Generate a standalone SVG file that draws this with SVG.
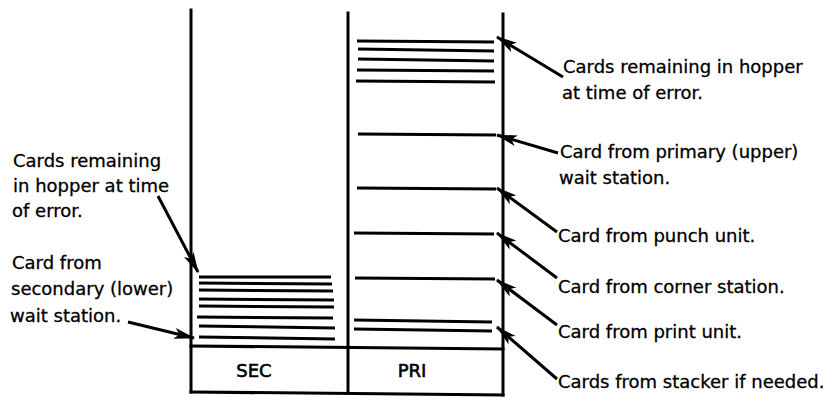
<svg xmlns="http://www.w3.org/2000/svg" width="833" height="401" viewBox="0 0 833 401">
<style>
.wall{stroke:#000;stroke-width:3;fill:none;stroke-linecap:square}
.card{stroke:#000;stroke-width:3;fill:none}
.arr{stroke:#000;stroke-width:3;fill:none}
.t{font-family:"DejaVu Sans",sans-serif;font-size:18px;fill:#000;stroke:#000;stroke-width:0.3}
.lbl{font-family:"DejaVu Sans",sans-serif;font-size:18px;fill:#000;stroke:#000;stroke-width:0.6;text-anchor:middle}
</style>
<defs>
<marker id="ah" markerUnits="userSpaceOnUse" markerWidth="22" markerHeight="12" refX="20" refY="6" orient="auto">
<path d="M0,0.5 L21,6 L0,11.5 L5,6 Z" fill="#000"/>
</marker>
</defs>
<rect width="833" height="401" fill="#fff"/>
<g id="hopper">
<line class="wall" x1="191" y1="10" x2="191" y2="392"/>
<line class="wall" x1="348" y1="13" x2="348" y2="393"/>
<line class="wall" x1="503" y1="14" x2="503" y2="395"/>
<line class="wall" x1="191" y1="346" x2="503" y2="349"/>
<line class="wall" x1="191" y1="392" x2="503" y2="395"/>
</g>
<g id="sec-cards">
<line class="card" x1="199" y1="277" x2="331" y2="277"/>
<line class="card" x1="199" y1="283" x2="332" y2="284"/>
<line class="card" x1="199" y1="290" x2="333" y2="291"/>
<line class="card" x1="199" y1="299" x2="334" y2="300"/>
<line class="card" x1="199" y1="306" x2="334" y2="307"/>
<line class="card" x1="197" y1="317" x2="333" y2="318"/>
<line class="card" x1="199" y1="326" x2="335" y2="328"/>
<line class="card" x1="199" y1="337" x2="335" y2="339"/>
</g>
<g id="pri-cards">
<line class="card" x1="357" y1="41" x2="494" y2="42"/>
<line class="card" x1="358" y1="49" x2="494" y2="51"/>
<line class="card" x1="358" y1="59" x2="494" y2="61"/>
<line class="card" x1="357" y1="70" x2="494" y2="71"/>
<line class="card" x1="356" y1="81" x2="495" y2="82"/>
<line class="card" x1="358" y1="134" x2="496" y2="135"/>
<line class="card" x1="357" y1="188" x2="496" y2="189"/>
<line class="card" x1="354" y1="233" x2="494" y2="234"/>
<line class="card" x1="355" y1="278" x2="495" y2="279"/>
<line class="card" x1="354" y1="320" x2="492" y2="322"/>
<line class="card" x1="354" y1="329" x2="492" y2="331"/>
</g>
<g id="labels-box">
<text class="lbl" x="254" y="377">SEC</text>
<text class="lbl" x="412" y="377">PRI</text>
</g>
<g id="connectors">
<line class="arr" x1="158" y1="196" x2="198" y2="272" marker-end="url(#ah)"/>
<line class="arr" x1="128" y1="322" x2="194" y2="338" marker-end="url(#ah)"/>
<line class="arr" x1="563" y1="77" x2="497" y2="37" marker-end="url(#ah)"/>
<line class="arr" x1="558" y1="153" x2="497" y2="135" marker-end="url(#ah)"/>
<line class="arr" x1="557" y1="232" x2="497" y2="188" marker-end="url(#ah)"/>
<line class="arr" x1="557" y1="278" x2="497" y2="233" marker-end="url(#ah)"/>
<line class="arr" x1="557" y1="325" x2="497" y2="280" marker-end="url(#ah)"/>
<line class="arr" x1="557" y1="379" x2="497" y2="327" marker-end="url(#ah)"/>
</g>
<g id="left-notes">
<text class="t" x="13" y="167">Cards remaining</text>
<text class="t" x="13" y="192">in hopper at time</text>
<text class="t" x="12" y="217">of error.</text>
<text class="t" x="12" y="269">Card from</text>
<text class="t" x="11" y="295">secondary (lower)</text>
<text class="t" x="10" y="322">wait station.</text>
</g>
<g id="right-notes">
<text class="t" x="563" y="73">Cards remaining in hopper</text>
<text class="t" x="562" y="99">at time of error.</text>
<text class="t" x="560" y="158">Card from primary (upper)</text>
<text class="t" x="559" y="184">wait station.</text>
<text class="t" x="558" y="242">Card from punch unit.</text>
<text class="t" x="558" y="293">Card from corner station.</text>
<text class="t" x="558" y="338">Card from print unit.</text>
<text class="t" x="558" y="388">Cards from stacker if needed.</text>
</g>
</svg>
